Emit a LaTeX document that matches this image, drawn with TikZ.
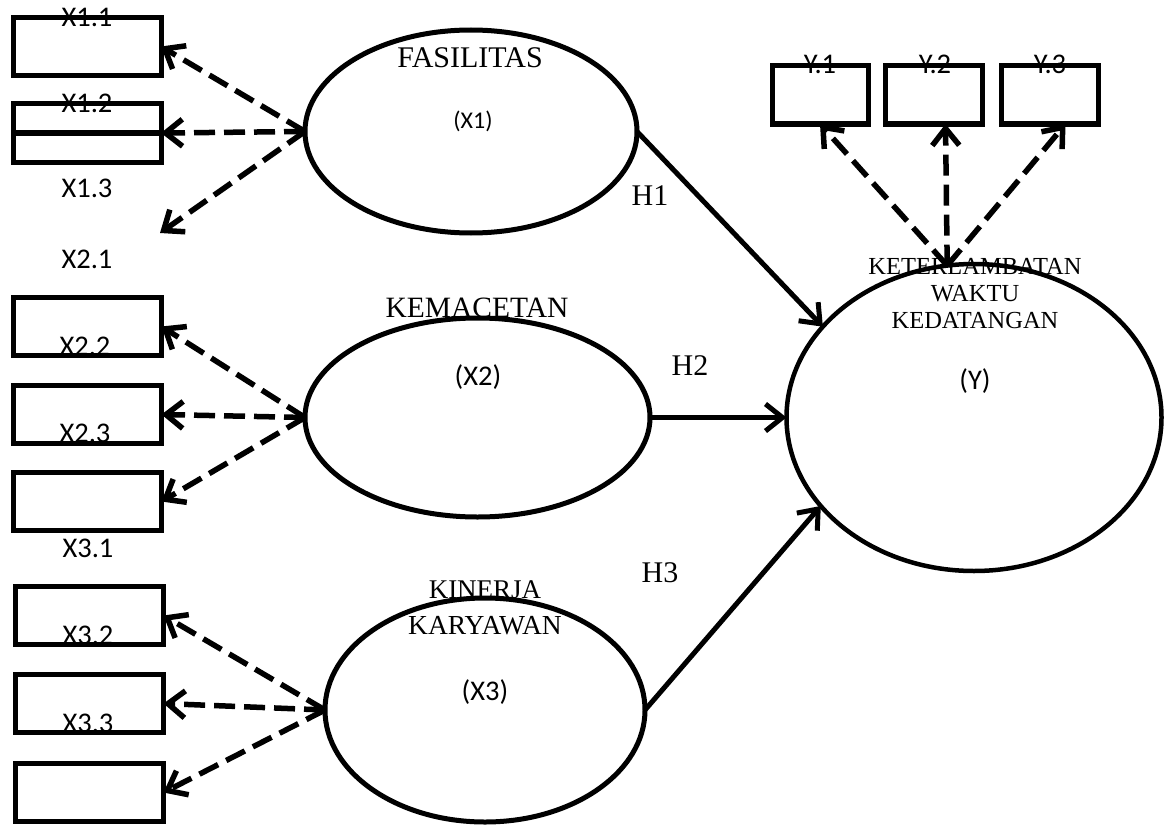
\documentclass[tikz,border=0pt]{standalone}
\usepackage{fontspec}
\setmainfont{Liberation Serif}
\newfontfamily\calibri{Carlito}
\usetikzlibrary{shapes.geometric, arrows.meta, calc}

\begin{document}
\begin{tikzpicture}[x=1pt, y=-1pt,
    latent/.style={draw, ellipse, line width=5pt, inner sep=0pt, outer sep=0pt},
    indbox/.style={draw, rectangle, line width=5pt, inner sep=0pt, outer sep=0pt,
        minimum width=148pt, minimum height=58pt},
    loading/.style={-{Straight Barb[length=17pt,width=27pt]}, line width=5.5pt,
        dash pattern=on 21pt off 9pt},
    hyp/.style={-{Straight Barb[length=17pt,width=27pt]}, line width=5pt},
    lbl/.style={font=\calibri\fontsize{28.5}{30}\selectfont, inner sep=0pt},
    varname/.style={font=\fontsize{30}{32}\selectfont, inner sep=0pt}]

    \useasboundingbox (0,0) rectangle (1166,824);

    % Latent variables
    \node[latent, minimum width=332pt, minimum height=203pt] (fas) at (471,131.5) {};
    \node[latent, minimum width=345pt, minimum height=199pt] (kem) at (477.5,417.5) {};
    \node[latent, minimum width=320pt, minimum height=224pt] (kin) at (485,710) {};
    \node[latent, line width=4.5pt, minimum width=375pt, minimum height=307pt] (ket) at (974,417.5) {};

    % Indicator boxes
    \node[indbox] (b11) at (87,46.5) {};
    \node[indbox] (b12) at (87,133) {};
    \node[indbox] (b21) at (87.5,326.5) {};
    \node[indbox] (b22) at (87.5,414.5) {};
    \node[indbox] (b23) at (87.5,501.5) {};
    \node[indbox] (b31) at (89.5,615.5) {};
    \node[indbox] (b32) at (89.5,703.5) {};
    \node[indbox] (b33) at (89.5,792.5) {};
    \node[indbox, minimum width=96pt] (y1) at (820,95) {};
    \node[indbox, minimum width=97pt] (y2) at (933.5,95) {};
    \node[indbox, minimum width=97pt] (y3) at (1049.5,95) {};

    % Free end of the third X1 loading
    \coordinate (x13end) at (160,233);

    % Loadings
    \foreach \b in {b11,b12}
        \draw[loading] (fas.west) -- (\b.east);
    \draw[loading] (fas.west) -- (x13end);
    \foreach \b in {b21,b22,b23}
        \draw[loading] (kem.west) -- (\b.east);
    \foreach \b in {b31,b32,b33}
        \draw[loading] (kin.west) -- (\b.east);
    \draw[loading] (ket.100) -- (y1.south);
    \draw[loading] (ket.100) -- ([xshift=12pt]y2.south);
    \draw[loading] (ket.100) -- ([xshift=16pt]y3.south);

    % Line through the X1.2 box
    \draw[line width=6pt] (b12.west) -- (b12.east);

    % Hypotheses
    \draw[hyp] (fas.east) -- (ket.149);
    \draw[hyp] (kem.east) -- (ket.west);
    \draw[hyp] (kin.east) -- (ket.210);

    % Indicator labels
    \node[lbl] (l11) at (87,17) {X1.1};
    \node[lbl] (l12) at (87,103) {X1.2};
    \node[lbl] (l13) at (87,188) {X1.3};
    \node[lbl] (l21) at (87,259) {X2.1};
    \node[lbl] (l22) at (85,346) {X2.2};
    \node[lbl] (l23) at (85,433) {X2.3};
    \node[lbl] (l31) at (88,548) {X3.1};
    \node[lbl] (l32) at (88,635) {X3.2};
    \node[lbl] (l33) at (88,723) {X3.3};
    \node[lbl] (ly1) at (820,64) {Y.1};
    \node[lbl] (ly2) at (935,64) {Y.2};
    \node[lbl] (ly3) at (1050,64) {Y.3};

    % Variable names
    \node[varname] (fasname) at (470,57.5) {FASILITAS};
    \node[lbl, font=\calibri\fontsize{24}{26}\selectfont] (fassym) at (473,121) {(X1)};
    \node[varname, font=\fontsize{29.5}{31}\selectfont] (kemname) at (477,307.5) {KEMACETAN};
    \node[lbl] (kemsym) at (478,377.5) {(X2)};
    \node[varname, font=\fontsize{27}{29}\selectfont] (kinname1) at (485,590) {KINERJA};
    \node[varname, font=\fontsize{27.5}{29}\selectfont] (kinname2) at (485,625.5) {KARYAWAN};
    \node[lbl] (kinsym) at (485,692) {(X3)};
    \node[varname, font=\fontsize{24.5}{26}\selectfont] (ketname1) at (975,266) {KETERLAMBATAN};
    \node[varname, font=\fontsize{24.5}{26}\selectfont] (ketname2) at (975,294) {WAKTU};
    \node[varname, font=\fontsize{24.5}{26}\selectfont] (ketname3) at (975,321) {KEDATANGAN};
    \node[lbl] (ketsym) at (975,381.5) {(Y)};

    % Hypothesis labels
    \node[varname] (h1) at (650,195.5) {H1};
    \node[varname] (h2) at (690,366) {H2};
    \node[varname] (h3) at (660,573) {H3};
\end{tikzpicture}
\end{document}
